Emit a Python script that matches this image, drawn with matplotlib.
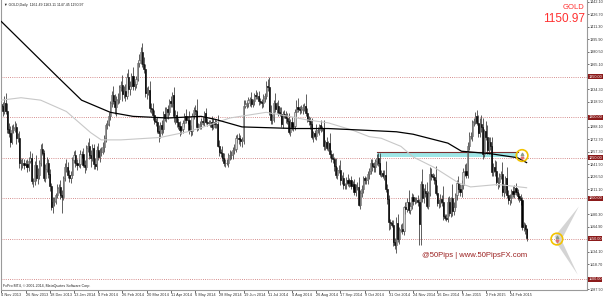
import numpy as np
import pandas as pd
import matplotlib
matplotlib.use("Agg")
import matplotlib.pyplot as plt
import matplotlib.transforms as mtransforms
from matplotlib.patches import Rectangle, Polygon

plt.rcParams['font.family'] = ['Liberation Sans', 'DejaVu Sans']

# trading days (broker closed on these)
holidays = ["2013-12-25", "2014-01-01", "2014-04-18", "2014-12-25", "2015-01-01"]
dates = pd.bdate_range("2013-11-04", "2015-03-11")
dates = dates[~dates.isin(pd.to_datetime(holidays))]

first_open = 1316.0
# daily closes, one row per week
closes = [
    1314, 1308, 1318, 1308, 1286,
    1281, 1270, 1284, 1287, 1288,
    1274, 1274, 1243, 1243, 1244,
    1241, 1242, 1238, 1246, 1250,
    1221, 1221, 1241, 1225, 1229,
    1243, 1261, 1256, 1225, 1236,
    1244, 1230, 1215, 1189, 1196,
    1197, 1204, 1213, 1214,
    1204, 1201, 1225, 1238,
    1238, 1229, 1225, 1229, 1247,
    1253, 1244, 1241, 1242, 1254,
    1254, 1241, 1238, 1262, 1264,
    1253, 1250, 1262, 1242, 1240,
    1260, 1251, 1257, 1257, 1263,
    1274, 1290, 1292, 1301, 1318,
    1327, 1320, 1312, 1321, 1323,
    1337, 1340, 1328, 1332, 1326,
    1350, 1335, 1339, 1351, 1339,
    1341, 1347, 1367, 1370, 1380,
    1366, 1359, 1330, 1331, 1334,
    1311, 1310, 1303, 1295, 1294,
    1283, 1280, 1290, 1286, 1304,
    1299, 1310, 1306, 1320, 1318,
    1327, 1301, 1303, 1294,
    1289, 1284, 1285, 1293, 1302,
    1296, 1296, 1284, 1283, 1302,
    1309, 1308, 1288, 1288, 1291,
    1295, 1294, 1305, 1294, 1293,
    1293, 1294, 1288, 1294, 1292,
    1291, 1265, 1257, 1256, 1250,
    1244, 1244, 1244, 1253, 1253,
    1253, 1260, 1261, 1274, 1274,
    1273, 1271, 1272, 1314, 1316,
    1318, 1321, 1322, 1316, 1320,
    1327, 1326, 1326, 1320, 1319,
    1317, 1324, 1326, 1339, 1337,
    1307, 1297, 1300, 1318, 1310,
    1314, 1306, 1304, 1292, 1304,
    1303, 1299, 1295, 1282, 1294,
    1288, 1289, 1307, 1313, 1310,
    1309, 1310, 1313, 1314, 1305,
    1298, 1295, 1292, 1276, 1280,
    1277, 1284, 1284, 1290, 1287,
    1287, 1264, 1269, 1262, 1268,
    1254, 1250, 1248, 1240, 1229,
    1235, 1235, 1222, 1225, 1216,
    1217, 1222, 1219, 1222, 1215,
    1218, 1208, 1214, 1214, 1192,
    1207, 1211, 1225, 1222, 1222,
    1230, 1234, 1243, 1240, 1238,
    1246, 1250, 1244, 1230, 1231,
    1228, 1229, 1212, 1199, 1171,
    1169, 1167, 1146, 1142, 1169,
    1150, 1161, 1162, 1160, 1189,
    1187, 1196, 1185, 1191, 1201,
    1197, 1197, 1198, 1195, 1168,
    1218, 1200, 1209, 1206, 1191,
    1206, 1230, 1228, 1226, 1222,
    1207, 1194, 1194, 1199, 1195,
    1178, 1176, 1174, 1195,
    1182, 1200, 1184, 1189,
    1204, 1219, 1211, 1208, 1216,
    1233, 1234, 1229, 1264, 1277,
    1277, 1294, 1295, 1301, 1293,
    1280, 1292, 1288, 1255, 1283,
    1276, 1260, 1270, 1264, 1233,
    1239, 1234, 1220, 1220, 1228,
    1230, 1208, 1212, 1225, 1204,
    1198, 1200, 1209, 1205, 1213,
    1208, 1203, 1200, 1198, 1164,
    1167, 1161.49, 1150.97,
]
upper_wick = [
    6, 5, 8, 12, 9,   7, 8, 6, 5, 7,   5, 6, 9, 5, 6,   4, 5, 6, 5, 8,
    6, 4, 5, 12, 8,   4, 6, 7, 4, 6,   7, 5, 6, 4, 5,   4, 3, 5, 4,
    8, 6, 3, 5,   10, 7, 6, 5, 4,   5, 7, 5, 6, 5,   4, 8, 6, 4, 6,
    10, 6, 5, 5, 8,   4, 8, 5, 6, 7,   4, 3, 4, 6, 2,   5, 12, 8, 5, 7,
    3, 5, 12, 6, 9,   4, 10, 5, 4, 11,   4, 4, 2, 8, 6,   12, 8, 7, 6, 5,
    10, 6, 8, 6, 4,   6, 7, 4, 7, 4,   8, 3, 5, 3, 6,   4, 10, 6, 5,
    5, 6, 4, 4, 3,   8, 5, 12, 6, 3,   4, 6, 14, 5, 4,   4, 5, 3, 6, 5,
    4, 3, 8, 5, 4,   4, 12, 7, 4, 8,   6, 5, 5, 3, 7,   5, 3, 6, 4, 5,
    6, 5, 4, 7, 5,   2, 4, 3, 9, 2,   3, 6, 5, 6, 4,   4, 5, 4, 6, 8,
    12, 8, 4, 3, 12,   5, 7, 6, 8, 4,   5, 5, 6, 10, 4,   6, 4, 3, 8, 11,
    4, 5, 3, 4, 15,   6, 4, 5, 7, 3,   4, 8, 4, 2, 6,   2, 10, 3, 6, 3,
    12, 5, 6, 3, 10,   3, 6, 12, 4, 8,   2, 4, 8, 3, 5,   3, 6, 4, 6, 12,
    3, 5, 2, 3, 4,   4, 3, 6, 6, 5,   3, 5, 6, 12, 4,   4, 6, 17, 6, 5,
    4, 4, 6, 5, 8,   12, 4, 6, 8, 2,   6, 4, 14, 5, 6,   4, 5, 4, 6, 4,
    3, 18, 4, 8, 14,   3, 8, 7, 3, 4,   18, 9, 5, 6, 5,   20, 2, 4, 6,
    8, 2, 18, 7,   2, 4, 8, 6, 7,   4, 8, 9, 5, 5,   5, 2, 4, 6, 8,
    10, 7, 11, 11, 3,   12, 14, 6, 5, 11,   4, 8, 12, 6, 3,   4, 15, 5, 3, 14,
    6, 5, 3, 6, 3,   6, 4, 3, 5, 3,   4, 3, 2,
]
lower_wick = [
    5, 6, 4, 4, 6,   6, 7, 3, 4, 5,   7, 5, 6, 8, 6,   5, 3, 5, 4, 3,
    4, 7, 5, 4, 8,   5, 3, 3, 4, 5,   4, 5, 6, 4, 7,   5, 4, 4, 6,
    5, 19, 3, 4,   6, 4, 5, 6, 4,   4, 5, 6, 3, 5,   4, 3, 7, 3, 5,
    4, 12, 4, 6, 4,   5, 4, 6, 5, 3,   6, 4, 5, 3, 4,   6, 4, 8, 10, 5,
    5, 5, 8, 4, 6,   4, 5, 8, 3, 5,   5, 5, 3, 5, 5,   4, 4, 5, 8, 4,
    4, 5, 6, 4, 5,   3, 10, 6, 8, 5,   4, 5, 8, 3, 5,   5, 7, 9, 6,
    3, 7, 5, 4, 5,   3, 4, 5, 6, 5,   4, 5, 5, 4, 3,   6, 4, 5, 3, 4,
    3, 5, 4, 3, 5,   4, 2, 5, 5, 4,   4, 5, 3, 5, 6,   4, 5, 5, 4, 6,
    6, 7, 8, 5, 3,   5, 6, 7, 4, 4,   5, 4, 4, 5, 3,   6, 4, 5, 4, 5,
    4, 5, 6, 6, 4,   5, 4, 3, 4, 5,   4, 6, 4, 3, 5,   4, 5, 5, 5, 4,
    5, 4, 6, 5, 4,   4, 5, 6, 3, 6,   4, 5, 4, 6, 5,   4, 5, 4, 3, 4,
    4, 5, 5, 6, 4,   5, 4, 6, 5, 4,   5, 6, 4, 5, 4,   3, 4, 5, 4, 2,
    5, 6, 4, 5, 4,   5, 6, 4, 6, 5,   6, 5, 4, 3, 4,   3, 5, 4, 6, 10,
    7, 3, 5, 5, 10,   4, 6, 3, 4, 5,   6, 4, 3, 5, 4,   5, 4, 3, 4, 26,
    26, 5, 6, 4, 3,   4, 3, 6, 4, 5,   3, 4, 6, 5, 4,   5, 3, 2, 3,
    4, 5, 6, 5,   4, 6, 4, 5, 6,   5, 6, 4, 4, 5,   4, 6, 5, 4, 3,
    5, 4, 6, 7, 4,   4, 5, 6, 4, 6,   5, 6, 4, 8, 6,   4, 5, 7, 6, 4,
    5, 6, 6, 4, 5,   4, 5, 4, 6, 3,   4, 6, 4,
]

# moving averages (bar index, price)
ma200_bar = [0, 37, 53, 72, 87, 110, 132, 142, 159, 194, 216, 239, 261, 272, 295, 304, 323, 341, 347]
ma200_val = [1418, 1350, 1321, 1306, 1301, 1299, 1301, 1297, 1288, 1286, 1286, 1284, 1282, 1279,
             1268, 1258, 1255, 1250, 1244]
ma100_bar = [0, 13, 26, 43, 59, 66, 79, 105, 123, 132, 151, 175, 190, 201, 216, 232, 243, 251,
             264, 272, 286, 302, 310, 328, 347]
ma100_val = [1321, 1324, 1321, 1307, 1281, 1272, 1272, 1275, 1282, 1287, 1299, 1306, 1301, 1297,
             1293, 1284, 1276, 1274, 1264, 1251, 1238, 1219, 1214, 1217, 1213]

levels = [1350, 1300, 1250, 1200, 1150, 1100]
level_labels = ["1350.00", "1300.00", "1250.00", "1200.00", "1150.00", "1100.00"]
price_ticks = [1442.10, 1426.70, 1411.30, 1395.90, 1380.50, 1365.10, 1334.30, 1318.90, 1288.10,
               1272.70, 1257.30, 1241.90, 1226.50, 1211.10, 1180.30, 1164.90, 1134.10, 1118.70,
               1087.90]
date_labels = ["4 Nov 2013", "26 Nov 2013", "18 Dec 2013", "13 Jan 2014", "4 Feb 2014",
               "26 Feb 2014", "20 Mar 2014", "11 Apr 2014", "6 May 2014", "28 May 2014",
               "19 Jun 2014", "11 Jul 2014", "4 Aug 2014", "26 Aug 2014", "17 Sep 2014",
               "9 Oct 2014", "31 Oct 2014", "24 Nov 2014", "16 Dec 2014", "9 Jan 2015",
               "2 Feb 2015", "24 Feb 2015"]

zone_bars = (248, 341)
zone_prices = (1250.3, 1256.5)
circle_bars = [344, 367]
circle_prices = [1252.7, 1149.7]

c = np.array(closes, dtype=float)
o = np.concatenate([[first_open], c[:-1]])
hi = np.maximum(o, c) + np.array(upper_wick)
lo = np.minimum(o, c) - np.array(lower_wick)
x = np.arange(len(c))

fig = plt.figure(figsize=(6.04, 2.97), dpi=100)
ax = fig.add_axes([1 / 604, 7.5 / 297, 586 / 604, 289.5 / 297])
ax.set_xlim(-0.2, 386.9)
ax.set_ylim(1087.5, 1444.5)

for lv in levels:
    ax.axhline(lv, color='#c86a6a', lw=0.6, ls=(0, (1, 1.6)), zorder=1)

# support zone
ax.add_patch(Rectangle((zone_bars[0], zone_prices[0]), zone_bars[1] - zone_bars[0],
                       zone_prices[1] - zone_prices[0], facecolor='#9fe6e6', edgecolor='none', zorder=1.5))
ax.plot(zone_bars, [zone_prices[1]] * 2, color='#7a3030', lw=0.8, zorder=1.6)

# candles
ax.vlines(x, lo, hi, color='#333333', lw=0.55, zorder=2)
up = c >= o
ax.bar(x[up], (c - o)[up], bottom=o[up], width=0.75, color='#d8d8d8', edgecolor='#555555',
       linewidth=0.4, zorder=2.1)
ax.bar(x[~up], (o - c)[~up], bottom=c[~up], width=0.75, color='black', edgecolor='black',
       linewidth=0.4, zorder=2.1)

ax.plot(ma100_bar, ma100_val, color='#c8c8c8', lw=0.8, zorder=3)
ax.plot(ma200_bar, ma200_val, color='black', lw=0.9, zorder=3.1)

# projection wedges and circles
ax.add_patch(Polygon([(369.6, 1147.2), (381.5, 1189.8), (365.3, 1152.3)], closed=True,
                     facecolor='#d4d4d4', edgecolor='none', zorder=2))
ax.add_patch(Polygon([(369.2, 1151.6), (380.8, 1105.7), (365.7, 1147.8)], closed=True,
                     facecolor='#d4d4d4', edgecolor='none', zorder=2))
ax.scatter(circle_bars, circle_prices, s=70, facecolors='none', edgecolors='#f2c200',
           linewidths=1.2, zorder=4)
ax.scatter(circle_bars, [p + 2 for p in circle_prices], s=3, marker='^', color='#8a9a8a', zorder=4)
ax.scatter(circle_bars, [p - 2.5 for p in circle_prices], s=3, marker='v', color='#e07070', zorder=4)

# axes styling
ax.spines['top'].set_visible(False)
for side in ['left', 'right', 'bottom']:
    ax.spines[side].set_color('#9a9a9a')
    ax.spines[side].set_linewidth(0.8)

ax.yaxis.tick_right()
ax.set_yticks(price_ticks)
ax.set_yticklabels([f"{t:.2f}" for t in price_ticks])
ax.tick_params(axis='y', length=1.5, width=0.5, pad=0.5, labelsize=2.7, colors='#333333')

tick_pos = [dates.get_loc(pd.to_datetime(d, format="%d %b %Y")) for d in date_labels]
ax.set_xticks(tick_pos)
ax.set_xticklabels(date_labels)
ax.tick_params(axis='x', length=2, width=0.5, pad=0.6, labelsize=2.8, colors='#333333')
for lbl in ax.get_xticklabels():
    lbl.set_horizontalalignment('left')

trans = mtransforms.blended_transform_factory(ax.transAxes, ax.transData)
for lv, txt in zip(levels, level_labels):
    ax.text(1.0025, lv, txt, transform=trans, fontsize=2.7, color='white', va='center', ha='left',
            bbox=dict(boxstyle='square,pad=0.12', fc='#8b1a1a', ec='none'), zorder=5, clip_on=False)

ax.text(0.005, 0.99, "\u25bc GOLD,Daily  1161.49 1163.11 1147.45 1150.97", transform=ax.transAxes,
        fontsize=2.6, va='top', ha='left', color='#222222')
ax.text(0.996, 0.985, "GOLD", transform=ax.transAxes, fontsize=5.5, color='#ff3030',
        va='top', ha='right')
ax.text(0.996, 0.955, "1150.97", transform=ax.transAxes, fontsize=8.5, color='#ff3030',
        va='top', ha='right')
ax.text(0.004, 0.004, "FxPro MT4, \u00a9 2001-2014, MetaQuotes Software Corp.", transform=ax.transAxes,
        fontsize=2.6, va='bottom', ha='left', color='#222222')
ax.text(312.7, 1129, "@50Pips | www.50PipsFX.com", fontsize=5.5, color='#9b2020',
        ha='center', va='center', zorder=5)

fig.savefig("out.png", dpi=100)
